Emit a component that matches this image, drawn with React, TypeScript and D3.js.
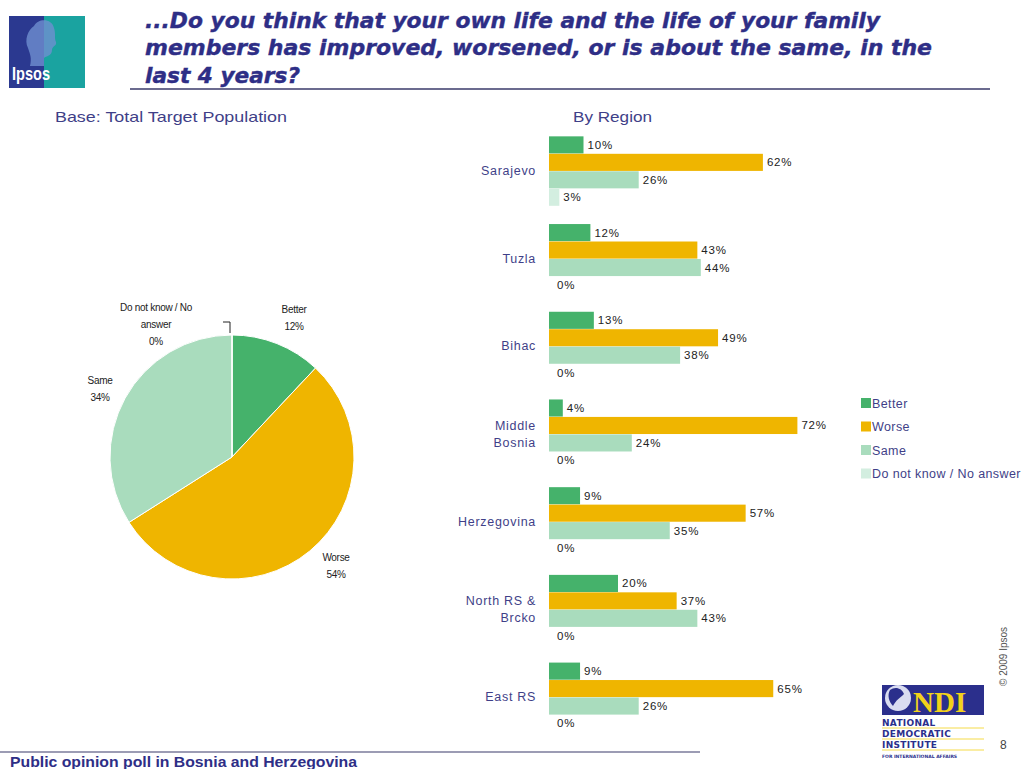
import React from "react";
import * as d3 from "d3";

const regions = ["Sarajevo", "Tuzla", "Bihac", "Middle Bosnia", "Herzegovina", "North RS & Brcko", "East RS"];
const regionLines: string[][] = [["Sarajevo"], ["Tuzla"], ["Bihac"], ["Middle", "Bosnia"], ["Herzegovina"], ["North RS &", "Brcko"], ["East RS"]];
const series = ["Better", "Worse", "Same", "Do not know / No answer"];
const better = [10, 12, 13, 4, 9, 20, 9];
const worse = [62, 43, 49, 72, 57, 37, 65];
const same = [26, 44, 38, 24, 35, 43, 26];
const dontKnow = [3, 0, 0, 0, 0, 0, 0];
const pieValues = [12, 54, 34, 0];
const colors = ["#45b26b", "#efb500", "#a9dcbd", "#d3eee0"];

const W = 1022, H = 769;

export default function App() {
  const seriesData = [better, worse, same, dontKnow];
  const x = d3.scaleLinear().domain([0, 100]).range([549, 549 + 345]);
  const y = d3.scaleBand<string>().domain(regions).range([136, 732.4]).paddingInner(0.2).paddingOuter(0);
  const yi = d3.scaleBand<string>().domain(series).range([0, y.bandwidth()]).padding(0.02);

  const pie = d3.pie<number>().sort(null).value((d) => d)(pieValues);
  const arc = d3.arc<d3.PieArcDatum<number>>().innerRadius(0).outerRadius(122);
  const cx = 232, cy = 457;

  const navy = "#2e2e86";
  const textBlue = "#3f3f88";
  const font = "'Liberation Sans', Arial, sans-serif";

  return (
    <svg width={W} height={H} style={{ position: "absolute", left: 0, top: 0, background: "#fff" }} fontFamily={font}>
      <rect x={0} y={0} width={W} height={H} fill="#fff" />
      {/* Ipsos logo */}
      <g>
        <rect x={9} y={16} width={76} height={72} fill="#2b3990" />
        <rect x={44} y={16} width={41} height={72} fill="#1aa3a0" />
        <path d="M34,26 C38,18 52,18 54,28 C56,34 54,38 56,42 C57,46 52,46 52,50 C52,56 46,56 44,58 L44,66 L30,66 C32,58 30,54 28,48 C24,40 28,30 34,26 Z" fill="#6f8fd0" opacity={0.8} />
        <text x={12} y={80} fill="#fff" fontSize={19} fontWeight="bold" textLength={38} lengthAdjust="spacingAndGlyphs">Ipsos</text>
      </g>
      {/* Title */}
      <g fill={navy} fontSize={21} fontWeight="bold" fontStyle="italic" fontFamily="'DejaVu Sans', sans-serif" stroke={navy} strokeWidth={0.4}>
        <text x={145} y={28} textLength={735} lengthAdjust="spacingAndGlyphs">...Do you think that your own life and the life of your family</text>
        <text x={145} y={55} textLength={787} lengthAdjust="spacingAndGlyphs">members has improved, worsened, or is about the same, in the</text>
        <text x={145} y={83} textLength={155} lengthAdjust="spacingAndGlyphs">last 4 years?</text>
      </g>
      <line x1={130} x2={990} y1={89} y2={89} stroke="#3a3a6a" strokeWidth={1.5} />
      <text x={55} y={122} fontSize={15} fill={textBlue} textLength={232} lengthAdjust="spacingAndGlyphs">Base:  Total Target Population</text>
      <text x={573} y={122} fontSize={15} fill={textBlue} textLength={79} lengthAdjust="spacingAndGlyphs">By Region</text>

      {/* Pie */}
      <g transform={`translate(${cx},${cy})`}>
        {pie.map((p, i) => (
          <path key={i} d={arc(p) || ""} fill={colors[i]} stroke="#fff" strokeWidth={1} />
        ))}
      </g>
      <g fontSize={10} fill="#222" textAnchor="middle" letterSpacing={-0.3}>
        <text x={156} y={311}>Do not know / No</text>
        <text x={156} y={328}>answer</text>
        <text x={156} y={345}>{pieValues[3]}%</text>
        <text x={294} y={313}>{series[0]}</text>
        <text x={294} y={330}>{pieValues[0]}%</text>
        <text x={100} y={384}>{series[2]}</text>
        <text x={100} y={401}>{pieValues[2]}%</text>
        <text x={336} y={561}>{series[1]}</text>
        <text x={336} y={578}>{pieValues[1]}%</text>
      </g>
      <path d="M223,322 L230,322 L230,333" fill="none" stroke="#222" strokeWidth={1} />

      {/* Bars */}
      {regions.map((r, ri) => (
        <g key={r}>
          {seriesData.map((s, si) => {
            const yy = (y(r) || 0) + (yi(series[si]) || 0);
            const h = yi.bandwidth();
            const v = s[ri];
            return (
              <g key={si}>
                {v > 0 && <rect x={x(0)} y={yy} width={x(v) - x(0)} height={h} fill={colors[si]} />}
                <text x={x(v) + (v > 0 ? 4 : 8)} y={yy + h / 2 + 4} fontSize={11.5} letterSpacing={0.8} fill="#222">{v}%</text>
              </g>
            );
          })}
          {regionLines[ri].map((line, li) => {
            const n = regionLines[ri].length;
            const cyy = (y(r) || 0) + y.bandwidth() / 2 + 4 + (li - (n - 1) / 2) * 17;
            return (
              <text key={li} x={536} y={cyy} textAnchor="end" fontSize={12.5} letterSpacing={0.7} fill={textBlue}>{line}</text>
            );
          })}
        </g>
      ))}

      {/* Legend */}
      {series.map((s, i) => (
        <g key={s} transform={`translate(861,${398 + i * 23.5})`}>
          <rect x={0} y={0} width={10} height={10} fill={colors[i]} />
          <text x={11} y={9.5} fontSize={12.5} letterSpacing={0.4} fill={textBlue}>{s}</text>
        </g>
      ))}

      {/* NDI logo */}
      <g>
        <rect x={882} y={685} width={102} height={30} fill="#2b2f8c" />
        <circle cx={898} cy={698} r={13} fill="#d9dcf0" />
        <path d="M890,690 C895,686 902,688 904,694 C900,698 896,700 893,706 C889,702 887,695 890,690 Z" fill="#2b2f8c" />
        <text x={913} y={712} fontSize={29} fontWeight="bold" fontFamily="'Liberation Serif', serif" fill="#f2d21a">NDI</text>
        <g fontSize={9} fontWeight="bold" fill="#2b2f8c" fontFamily="'DejaVu Sans', sans-serif">
          <text x={882} y={726} letterSpacing={0.3}>NATIONAL</text>
          <text x={882} y={737} letterSpacing={0.3}>DEMOCRATIC</text>
          <text x={882} y={748} letterSpacing={0.3}>INSTITUTE</text>
          <text x={882} y={758} fontSize={4.5}>FOR INTERNATIONAL AFFAIRS</text>
        </g>
        <line x1={882} x2={984} y1={728} y2={728} stroke="#f2d21a" strokeWidth={0.8} />
        <line x1={882} x2={984} y1={739} y2={739} stroke="#f2d21a" strokeWidth={0.8} />
        <line x1={882} x2={984} y1={750} y2={750} stroke="#f2d21a" strokeWidth={0.8} />
      </g>
      <text transform="translate(1007,686) rotate(-90)" fontSize={10} fill="#555">© 2009 Ipsos</text>
      <text x={1000} y={749} fontSize={12} fill="#444">8</text>

      {/* Footer */}
      <line x1={0} x2={700} y1={752} y2={752} stroke="#3a3a6a" strokeWidth={1.2} />
      <text x={10} y={767} fontSize={15} fontWeight="bold" fill={navy} textLength={347} lengthAdjust="spacingAndGlyphs">Public opinion poll in Bosnia and Herzegovina</text>
    </svg>
  );
}
